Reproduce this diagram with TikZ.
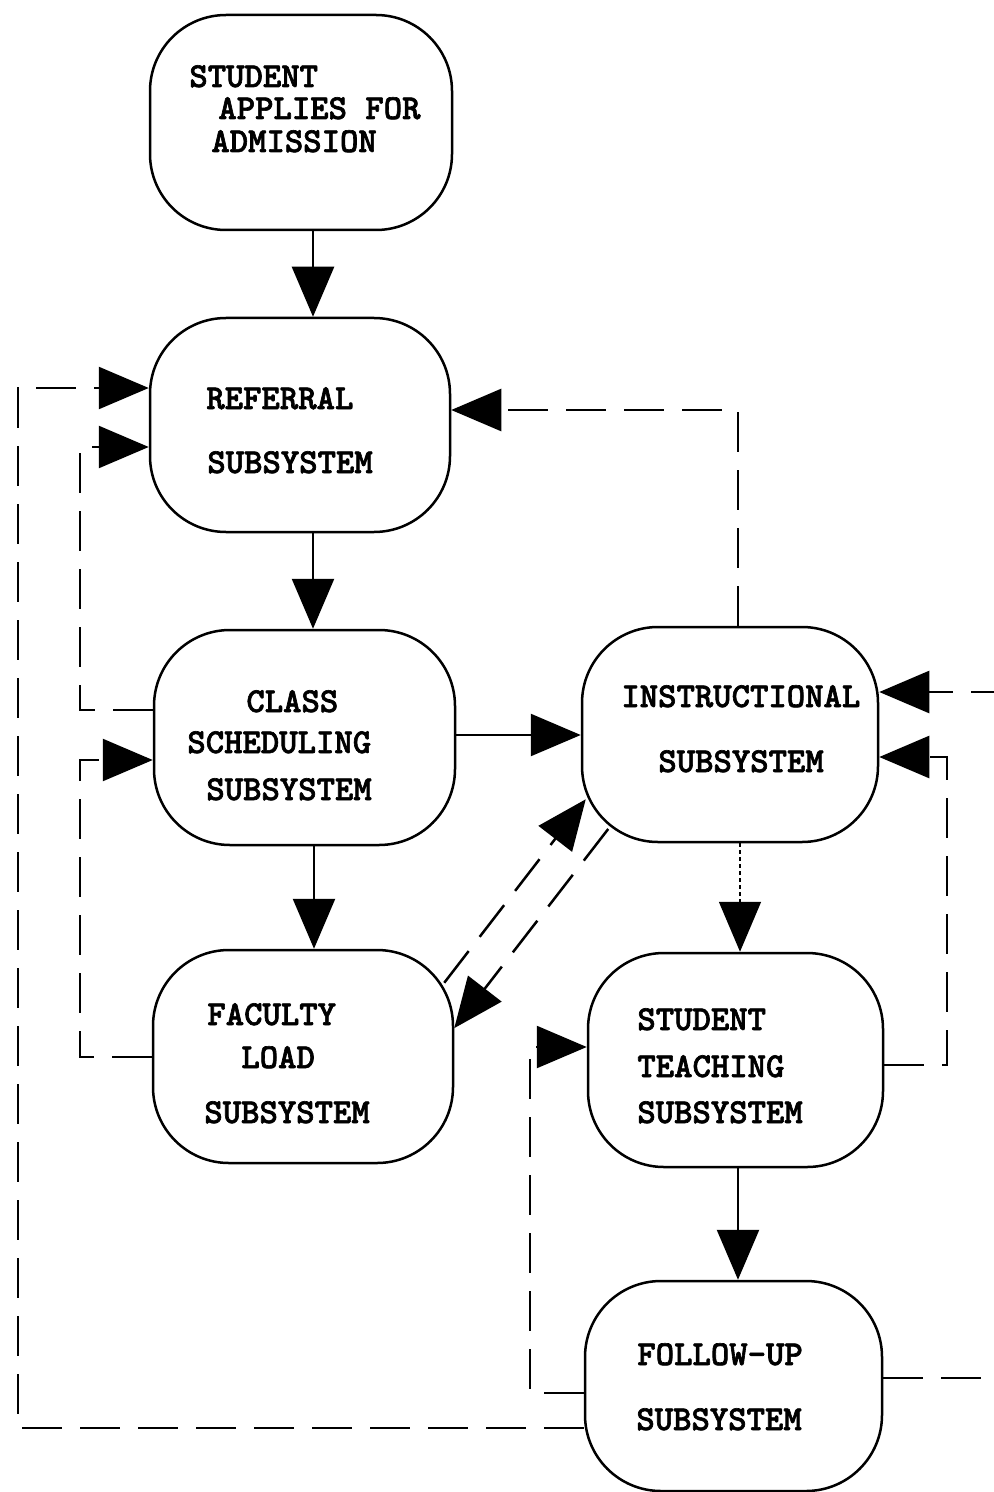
\documentclass[tikz,border=0pt]{standalone}
\usepackage{fontspec}
\newfontfamily\twbold{lmmonolt10-bold.otf}[FakeBold=1.8]
\usetikzlibrary{arrows.meta,calc}
\begin{document}
\begin{tikzpicture}[x=0.5pt,y=-0.5pt,
  box/.style={draw, line width=1.25pt, rounded corners=38pt, inner sep=0pt},
  lbl/.style={anchor=base west, inner sep=0pt, font=\twbold\fontsize{17.5}{17.5}\selectfont},
  arr/.style={line width=1.25pt, -{Triangle[length=25pt,width=21pt]}},
  dline/.style={arr, dash pattern=on 20pt off 9pt},
  dotline/.style={arr, line width=0.8pt, dash pattern=on 2pt off 1.5pt}]
\useasboundingbox (0,0) rectangle (994,1492);

% boxes
\node[box, minimum width=151pt, minimum height=107.5pt] (n1) at (301,122.5) {};
\node[box, minimum width=150pt, minimum height=107pt] (n2) at (300,425) {};
\node[box, minimum width=150.5pt, minimum height=107.5pt] (n3) at (304.5,737.5) {};
\node[box, minimum width=150pt, minimum height=106.5pt] (n4) at (303,1056.5) {};
\node[box, minimum width=148pt, minimum height=107.5pt] (n5) at (730,734.5) {};
\node[box, minimum width=147.5pt, minimum height=107pt] (n6) at (735.5,1060) {};
\node[box, minimum width=148.5pt, minimum height=105pt] (n7) at (733.5,1386) {};

% texts
\node[lbl] (t1a) at (189,87) {STUDENT};
\node[lbl] (t1b) at (218,119) {APPLIES FOR};
\node[lbl] (t1c) at (211,152) {ADMISSION};
\node[lbl] (t2a) at (206,409) {REFERRAL};
\node[lbl] (t2b) at (207,473) {SUBSYSTEM};
\node[lbl] (t3a) at (246,712) {CLASS};
\node[lbl] (t3b) at (187,753) {SCHEDULING};
\node[lbl] (t3c) at (206,800) {SUBSYSTEM};
\node[lbl] (t4a) at (207,1025) {FACULTY};
\node[lbl] (t4b) at (241,1068) {LOAD};
\node[lbl] (t4c) at (204,1123) {SUBSYSTEM};
\node[lbl] (t5a) at (621,707) {INSTRUCTIONAL};
\node[lbl] (t5b) at (658,772) {SUBSYSTEM};
\node[lbl] (t6a) at (637,1030) {STUDENT};
\node[lbl] (t6b) at (637,1077) {TEACHING};
\node[lbl] (t6c) at (637,1123) {SUBSYSTEM};
\node[lbl] (t7a) at (637,1365) {FOLLOW-UP};
\node[lbl] (t7b) at (636,1430) {SUBSYSTEM};

% guide coordinates
\coordinate (xa) at (313,0);
\coordinate (xb) at (314,0);
\coordinate (ya) at (0,735);
\coordinate (xc) at (740,0);
\coordinate (xd) at (738,0);

% solid flow
\draw[arr] (n1.south -| xa) -- (n2.north -| xa);
\draw[arr] (n2.south -| xa) -- (n3.north -| xa);
\draw[arr] (n3.south -| xb) -- (n4.north -| xb);
\draw[arr] (n3.east |- ya) -- (n5.west |- ya);
\draw[dotline] (n5.south -| xc) -- (n6.north -| xc);
\draw[arr] (n6.south -| xd) -- (n7.north -| xd);

% dashed feedback
\coordinate (d1a) at (738,410);
\draw[dline] (n5.north -| d1a) -- (d1a) -- (n2.east |- d1a);

\coordinate (d2a) at (80,710);
\coordinate (d2b) at (80,447);
\draw[dline] (n3.west |- d2a) -- (d2a) -- (d2b) -- (n2.west |- d2b);

\coordinate (d3a) at (80,1057);
\coordinate (d3b) at (80,760);
\draw[dline] (n4.west |- d3a) -- (d3a) -- (d3b) -- (n3.west |- d3b);

\coordinate (d4a) at (18,1428);
\coordinate (d4b) at (18,388);
\draw[dline] (n7.west |- d4a) -- (d4a) -- (d4b) -- (n2.west |- d4b);

\coordinate (d5a) at (1010,1378);
\coordinate (d5b) at (1010,692);
\draw[dline] (n7.east |- d5a) -- (d5a) -- (d5b) -- (n5.east |- d5b);

\coordinate (d6a) at (947,1065);
\coordinate (d6b) at (947,757);
\draw[dline] (n6.east |- d6a) -- (d6a) -- (d6b) -- (n5.east |- d6b);

\coordinate (d7a) at (530,1393);
\coordinate (d7b) at (530,1047);
\draw[dline] (n7.west |- d7a) -- (d7a) -- (d7b) -- (n6.west |- d7b);

\draw[dline] ($(n4.north east)+(-10,34)$) -- ($(n5.south west)+(5,-44)$);
\draw[dline] ($(n5.south west)+(27.5,-14.3)$) -- ($(n4.north east)+(0,79.4)$);
\end{tikzpicture}
\end{document}
